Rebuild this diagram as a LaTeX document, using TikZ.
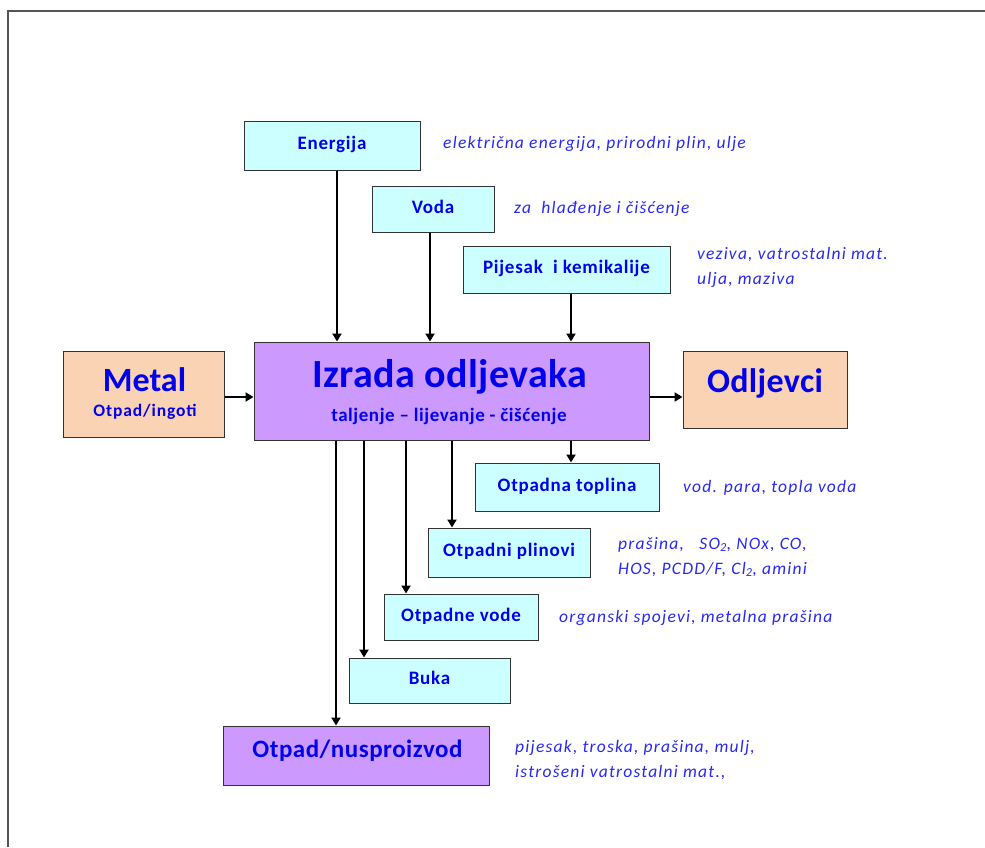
\documentclass[tikz,border=0pt]{standalone}
\usepackage{fontspec}
\setmainfont{Carlito}
\newfontfamily\lsone[LetterSpace=1]{Carlito}
\newfontfamily\lstwo[LetterSpace=2]{Carlito}
\newfontfamily\lsthree[LetterSpace=3]{Carlito}
\newfontfamily\lsfour[LetterSpace=4]{Carlito}
\newfontfamily\lsfive[LetterSpace=5]{Carlito}
\newfontfamily\notefont[LetterSpace=7]{Carlito}
\usetikzlibrary{arrows.meta}
\definecolor{labelblue}{RGB}{0,0,235}
\definecolor{noteblue}{RGB}{40,40,245}
\definecolor{cyanfill}{RGB}{204,255,255}
\definecolor{peachfill}{RGB}{250,211,180}
\definecolor{purplefill}{RGB}{204,153,255}
\definecolor{framegray}{RGB}{85,85,85}
\tikzset{
  box/.style={draw=black!80, line width=1pt, inner sep=0pt},
  inbox/.style={box, fill=cyanfill, text=labelblue, align=center,
    font=\lsfour\bfseries\fontsize{19}{21}\selectfont,
    text height=1em, text depth=0.2em},
  title/.style={anchor=base, inner sep=0pt, text=labelblue},
  note/.style={anchor=base west, inner sep=0pt, text=noteblue,
    font=\notefont\itshape\fontsize{17.5}{20}\selectfont},
  arr/.style={line width=2pt, -{Triangle[length=8pt,width=9pt]}},
}
\begin{document}
\begin{tikzpicture}[x=1pt,y=-1pt]
\useasboundingbox (0,0) rectangle (985,847);
% page frame (left and top edges)
\draw[framegray, line width=1.5pt] (8,847) -- (8,11) -- (985,11);

% inputs
\node[inbox, minimum width=176pt, minimum height=49pt] (energ) at (332,145.5) {Energija};
\node[inbox, minimum width=122pt, minimum height=46pt] (voda) at (433,209) {Voda};
\node[inbox, minimum width=207pt, minimum height=47pt] (pijesak) at (566.5,269.5) {Pijesak\ \ i kemikalije};

% main process row
\node[box, fill=peachfill, minimum width=161pt, minimum height=86pt] (metal) at (143.5,394) {};
\node[title, font=\bfseries\fontsize{34}{36}\selectfont] (metalT) at (144.5,391) {Metal};
\node[title, font=\lsfive\bfseries\fontsize{17.5}{20}\selectfont] (metalS) at (145,416) {Otpad/ingoti};

\node[box, fill=purplefill, minimum width=395pt, minimum height=98pt] (izrada) at (451.5,391) {};
\node[title, font=\lsone\bfseries\fontsize{40}{42}\selectfont] (izradaT) at (450,387) {Izrada odljevaka};
\node[title, font=\lsthree\bfseries\fontsize{19}{21}\selectfont] (izradaS) at (449,421) {taljenje – lijevanje - čišćenje};

\node[box, fill=peachfill, minimum width=164pt, minimum height=77pt] (odljevci) at (765,389.5) {};
\node[title, font=\lsone\bfseries\fontsize{34}{36}\selectfont] (odljevciT) at (765,392) {Odljevci};

% outputs
\node[inbox, minimum width=184pt, minimum height=48pt] (toplina) at (567,487) {Otpadna toplina};
\node[inbox, minimum width=162pt, minimum height=49pt] (plinovi) at (509,552.5) {Otpadni plinovi};
\node[inbox, minimum width=154pt, minimum height=46pt] (vode) at (461,617) {Otpadne vode};
\node[inbox, minimum width=161pt, minimum height=45pt] (buka) at (429.5,680.5) {Buka};
\node[box, fill=purplefill, minimum width=266pt, minimum height=59pt] (otpad) at (356,755.5) {};
\node[title, font=\lstwo\bfseries\fontsize{25}{27}\selectfont] (otpadT) at (357.5,757) {Otpad/nusproizvod};

% notes
\node[note] (nEnerg) at (443,148) {električna energija, prirodni plin, ulje};
\node[note] (nVoda) at (514,213) {za\ \ hlađenje i čišćenje};
\node[note] (nPijesak1) at (697,259) {veziva, vatrostalni mat.};
\node[note] (nPijesak2) at (697,284) {ulja, maziva};
\node[note] (nToplina) at (683,492) {vod. para, topla voda};
\node[note] (nPlinovi1) at (618,549) {prašina,\ \ \ SO\textsubscript{2}, NOx, CO,};
\node[note] (nPlinovi2) at (618,574) {HOS, PCDD/F, Cl\textsubscript{2}, amini};
\node[note] (nVode) at (559,622) {organski spojevi, metalna prašina};
\node[note] (nOtpad1) at (515,752) {pijesak, troska, prašina, mulj,};
\node[note] (nOtpad2) at (515,777) {istrošeni vatrostalni mat.,};

% connector columns and the main row
\coordinate (cA) at (337,0);
\coordinate (cB) at (430,0);
\coordinate (cC) at (571,0);
\coordinate (cD) at (336,0);
\coordinate (cE) at (364,0);
\coordinate (cF) at (406,0);
\coordinate (cG) at (452,0);
\coordinate (row) at (0,397);

% inflows
\draw[arr] (energ.south -| cA) -- (izrada.north -| cA);
\draw[arr] (voda.south -| cB) -- (izrada.north -| cB);
\draw[arr] (pijesak.south -| cC) -- (izrada.north -| cC);
\draw[arr] (metal.east |- row) -- (izrada.west |- row);
\draw[arr] (izrada.east |- row) -- (odljevci.west |- row);

% outflows
\draw[arr] (izrada.south -| cC) -- (toplina.north -| cC);
\draw[arr] (izrada.south -| cG) -- (plinovi.north -| cG);
\draw[arr] (izrada.south -| cF) -- (vode.north -| cF);
\draw[arr] (izrada.south -| cE) -- (buka.north -| cE);
\draw[arr] (izrada.south -| cD) -- (otpad.north -| cD);
\end{tikzpicture}
\end{document}
